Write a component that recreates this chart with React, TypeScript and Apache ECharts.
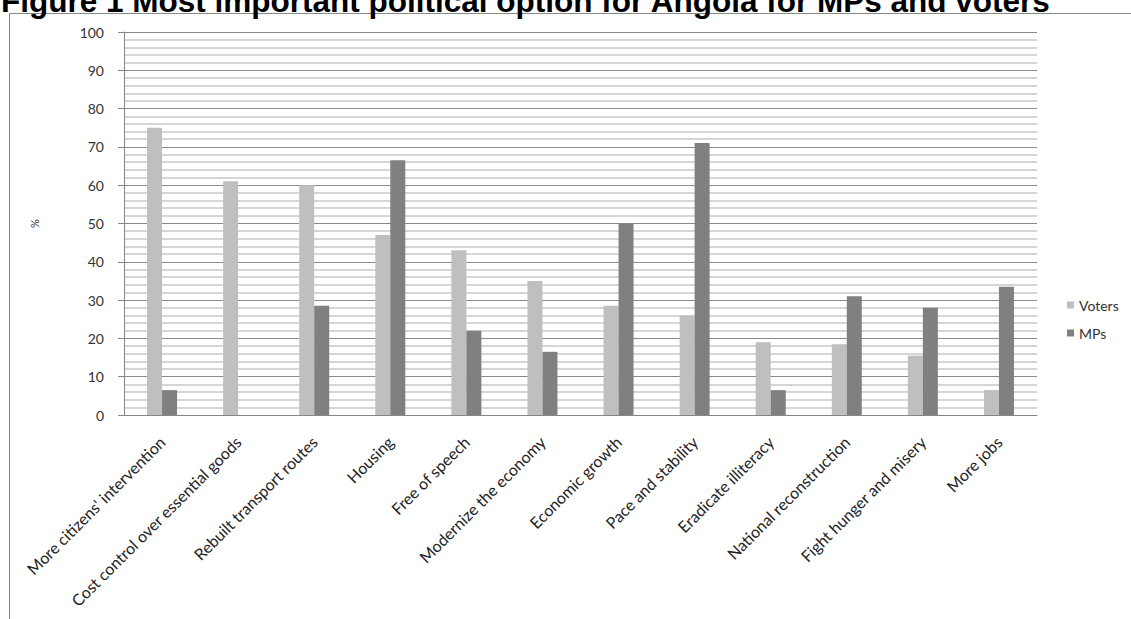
import React, { useEffect, useRef } from "react";
import * as echarts from "echarts";

const categories = [
  "More citizens' intervention",
  "Cost control over essential goods",
  "Rebuilt transport routes",
  "Housing",
  "Free of speech",
  "Modernize the economy",
  "Economic growth",
  "Pace and stability",
  "Eradicate illiteracy",
  "National reconstruction",
  "Fight hunger and misery",
  "More jobs",
];
const voters = [75, 61, 60, 47, 43, 35, 28.5, 26, 19, 18.5, 15.5, 6.5];
const mps = [6.5, 0, 28.5, 66.5, 22, 16.5, 50, 71, 6.5, 31, 28, 33.5];
const titleText = "Figure 1 Most important political option for Angola for MPs and voters";

export default function App() {
  const ref = useRef<HTMLDivElement>(null);
  useEffect(() => {
    document.body.style.margin = "0";
    const chart = echarts.init(ref.current!, null, { renderer: "svg" });
    chart.setOption({
      animation: false,
      backgroundColor: "#ffffff",
      graphic: [
        {
          type: "line",
          shape: { x1: 9.5, y1: 13.5, x2: 1131, y2: 13.5 },
          style: { stroke: "#888888", lineWidth: 1 },
          z: 1,
        },
        {
          type: "line",
          shape: { x1: 9.5, y1: 13.5, x2: 9.5, y2: 619 },
          style: { stroke: "#888888", lineWidth: 1 },
          z: 1,
        },
        {
          type: "text",
          x: 1,
          y: 17,
          z: 10,
          style: {
            text: titleText,
            font: 'bold 31.5px "Liberation Sans", Arial, sans-serif',
            fill: "#000000",
            verticalAlign: "bottom",
            align: "left",
          },
        },
      ],
      grid: { left: 124, right: 94, top: 32, bottom: 204, containLabel: false },
      legend: {
        orient: "vertical",
        left: 1062,
        top: 293,
        itemWidth: 7,
        itemHeight: 7,
        itemGap: 14,
        icon: "rect",
        textStyle: { fontFamily: "Lato", fontSize: 14, color: "#333333" },
        data: ["Voters", "MPs"],
      },
      xAxis: {
        type: "category",
        data: categories,
        axisLine: { lineStyle: { color: "#868686" } },
        axisTick: { show: false },
        axisLabel: {
          interval: 0,
          rotate: 45,
          margin: 24,
          fontFamily: "Lato",
          fontSize: 16,
          color: "#222222",
        },
      },
      yAxis: {
        type: "value",
        min: 0,
        max: 100,
        interval: 10,
        name: "%",
        nameLocation: "middle",
        nameRotate: 90,
        nameGap: 84,
        nameTextStyle: { fontFamily: "Lato", fontSize: 11, color: "#333333" },
        axisLine: { show: true, lineStyle: { color: "#868686" } },
        axisTick: { show: true, length: 6, lineStyle: { color: "#868686" } },
        axisLabel: { margin: 20, fontFamily: "Lato", fontSize: 14, color: "#333333" },
        splitLine: { show: true, lineStyle: { color: "#8a8a8a", width: 1 } },
        minorTick: { show: false, splitNumber: 5 },
        minorSplitLine: { show: true, lineStyle: { color: "#c8c8c8", width: 1.5 } },
      },
      series: [
        {
          name: "Voters",
          type: "bar",
          data: voters,
          barWidth: 15,
          barGap: "0%",
          itemStyle: { color: "#bfbfbf" },
        },
        {
          name: "MPs",
          type: "bar",
          data: mps,
          barWidth: 15,
          barGap: "0%",
          itemStyle: { color: "#808080" },
        },
      ],
    });
    return () => chart.dispose();
  }, []);
  return <div ref={ref} style={{ width: 1131, height: 619 }} />;
}
